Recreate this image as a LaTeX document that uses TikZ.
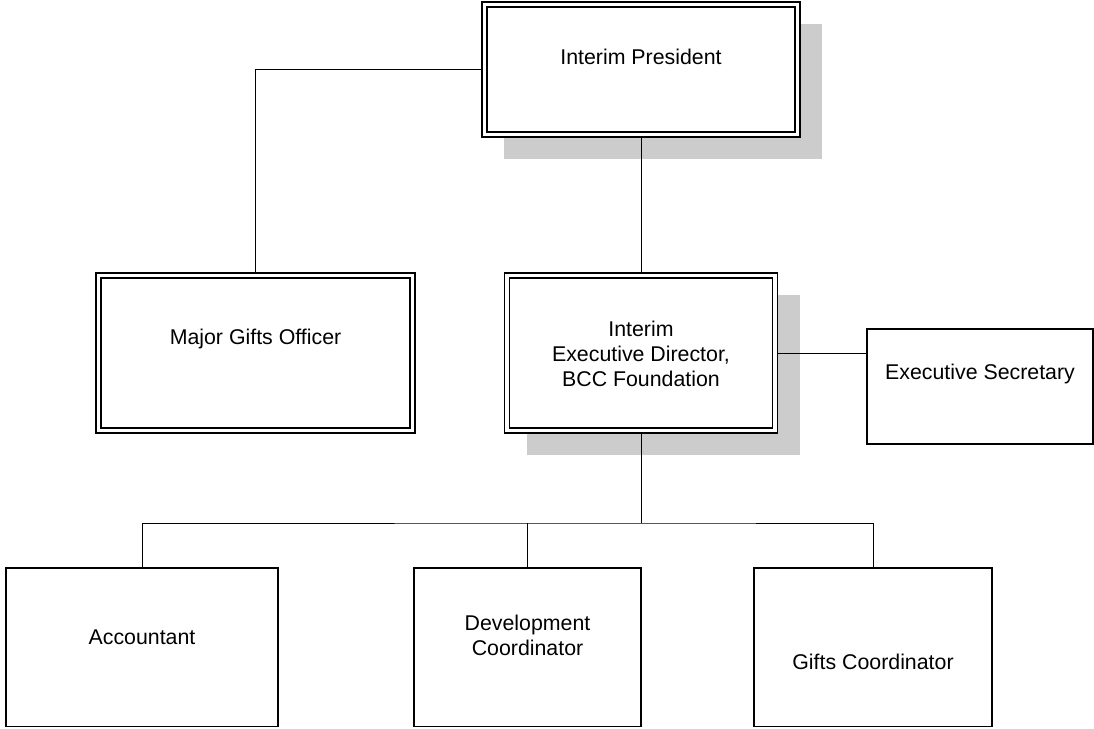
\documentclass[tikz,border=0pt]{standalone}
\usepackage{fontspec}
\setmainfont{Liberation Sans}
\usetikzlibrary{calc,backgrounds}
\definecolor{shadegray}{RGB}{204,204,204}
\tikzset{every picture/.style={line width=1.3pt}}
\tikzset{
  orgbox/.style={draw, fill=white, inner sep=0pt, outer sep=0pt},
  dblbox/.style={orgbox, line width=1pt, double, double distance=2.75pt},
  orgtext/.style={inner sep=0pt, align=center, font=\fontsize{16}{19}\selectfont},
  boxshade/.style={fill=shadegray, draw=none},
}

\begin{document}
\begin{tikzpicture}[x=0.75pt,y=0.75pt,yscale=-1,xscale=1]
\useasboundingbox (0,0) rectangle (1094,728);

%Double Box [president]
\node [dblbox, minimum width=234.75pt, minimum height=97.5pt] (pres) at (641,69.5) {};
%Double Box [major gifts]
\node [dblbox, minimum width=235.5pt, minimum height=116.25pt] (major) at (255.5,353) {};
%Double Box [executive director]
\node [dblbox, minimum width=201pt, minimum height=116.25pt] (exdir) at (641,353) {};
%Shape: Rectangle [secretary]
\node [orgbox, minimum width=169.5pt, minimum height=86.25pt] (exsec) at (980,386.5) {};
%Shape: Rectangle [accountant]
\node [orgbox, minimum width=204pt, minimum height=118.875pt] (acct) at (142,647.25) {};
%Shape: Rectangle [development]
\node [orgbox, minimum width=170.25pt, minimum height=118.875pt] (dev) at (527.5,647.25) {};
%Shape: Rectangle [gifts]
\node [orgbox, minimum width=178.5pt, minimum height=118.875pt] (gifts) at (873,647.25) {};

% Text Node
\node [orgtext] (pres-t) at (641,57) {Interim President};
% Text Node
\node [orgtext] (major-t) at (255.5,339) {Major Gifts Officer};
% Text Node
\node [orgtext] (exdir-t) at (641,354) {Interim\\Executive Director,\\BCC Foundation};
% Text Node
\node [orgtext] (exsec-t) at (980,374) {Executive Secretary};
% Text Node
\node [orgtext] (acct-t) at (142,637) {Accountant};
% Text Node
\node [orgtext] (dev-t) at (527.5,635.5) {Development\\Coordinator};
% Text Node
\node [orgtext] (gifts-t) at (873,662) {Gifts Coordinator};

\coordinate (bus) at (641,523);

\begin{pgfonlayer}{background}
%Shadows
\fill [boxshade] ($(pres.north west)+(19.5,19.5)$) rectangle ($(pres.south east)+(24.5,24.5)$);
\fill [boxshade] ($(exdir.north west)+(19.5,19.5)$) rectangle ($(exdir.south east)+(24.5,24.5)$);
% Connection
\draw (pres.west) -| (major.north);
% Connection
\draw (pres.south) -- (exdir.north);
% Connection
\draw (exdir.east) -- (exdir.east -| exsec.west);
% Connection
\draw (exdir.south) -- (bus);
% Connection
\draw (acct.north) |- (bus) -| (gifts.north);
% Connection
\draw (dev.north) -- (dev.north |- bus);
\end{pgfonlayer}

\end{tikzpicture}
\end{document}
